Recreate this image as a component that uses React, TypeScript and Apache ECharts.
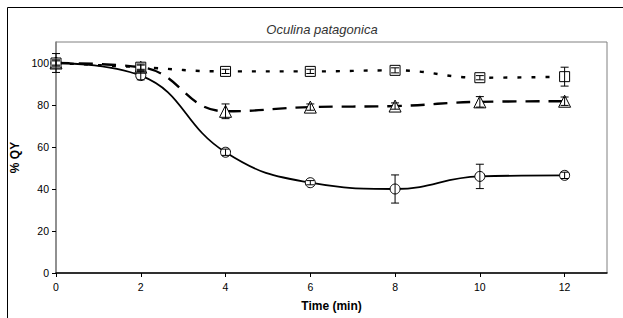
import React, { useEffect, useRef } from "react";
import * as echarts from "echarts";

const times = [0, 2, 4, 6, 8, 10, 12];
const circleMean = [100, 94, 57.5, 43, 40, 46, 46.5];
const circleErr = [4.5, 2, 1.5, 1, 6.7, 5.8, 1.5];
const triangleMean = [100, 98, 77, 79, 79.5, 81.5, 81.8];
const triangleErr = [1, 1, 3.5, 1.5, 1.5, 2.5, 2];
const squareMean = [100, 98, 96, 96, 96.5, 93, 93.5];
const squareErr = [1.5, 1.5, 1, 1, 1.2, 1, 4.5];
const xTicks = [0, 2, 4, 6, 8, 10, 12];
const yTicks = [0, 20, 40, 60, 80, 100];

const FONT = "Liberation Sans, Arial, sans-serif";

function errSeries(mean: number[], err: number[]) {
  return {
    type: "custom",
    z: 4,
    silent: true,
    data: times.map((t, i) => [t, mean[i] - err[i], mean[i] + err[i]]),
    renderItem: (_params: any, api: any) => {
      const x = api.value(0);
      const lo = api.coord([x, api.value(1)]);
      const hi = api.coord([x, api.value(2)]);
      const cw = 4;
      const style = { stroke: "#000", lineWidth: 1 };
      return {
        type: "group",
        children: [
          { type: "line", shape: { x1: lo[0], y1: lo[1], x2: hi[0], y2: hi[1] }, style },
          { type: "line", shape: { x1: lo[0] - cw, y1: lo[1], x2: lo[0] + cw, y2: lo[1] }, style },
          { type: "line", shape: { x1: hi[0] - cw, y1: hi[1], x2: hi[0] + cw, y2: hi[1] }, style },
        ],
      };
    },
  };
}

function lineSeries(name: string, mean: number[], symbol: string, size: number, dash: any, width: number) {
  return {
    name,
    type: "line",
    smooth: 0.45,
    data: times.map((t, i) => [t, mean[i]]),
    symbol,
    symbolSize: size,
    showSymbol: true,
    z: 3,
    lineStyle: { color: "#000", width, type: dash },
    itemStyle: { color: "#fff", borderColor: "#000", borderWidth: 1 },
  };
}

export default function App() {
  const ref = useRef<HTMLDivElement>(null);
  useEffect(() => {
    if (!ref.current) return;
    const chart = echarts.init(ref.current, null, { renderer: "svg" });
    chart.setOption({
      animation: false,
      backgroundColor: "#fff",
      title: {
        text: "Oculina patagonica",
        left: 317,
        top: 18,
        textAlign: "center",
        textStyle: { fontFamily: FONT, fontSize: 13, fontStyle: "italic", fontWeight: "normal", color: "#333" },
      },
      grid: {
        left: 56,
        right: 16,
        top: 42,
        bottom: 45,
        show: true,
        borderColor: "#808080",
        borderWidth: 1,
        backgroundColor: "#fff",
      },
      graphic: [
        {
          type: "rect",
          shape: { x: 7.5, y: 7.5, width: 640, height: 340 },
          style: { fill: "none", stroke: "#000", lineWidth: 1 },
          silent: true,
        },
      ],
      xAxis: {
        type: "value",
        min: 0,
        max: 13,
        interval: 2,
        name: "Time (min)",
        nameLocation: "middle",
        nameGap: 27,
        nameTextStyle: { fontFamily: FONT, fontSize: 12, fontWeight: "bold", color: "#000" },
        axisLine: { show: true, lineStyle: { color: "#000", width: 1.5 } },
        axisTick: { show: true, length: 4, lineStyle: { color: "#000" }, customValues: xTicks },
        axisLabel: { fontFamily: FONT, fontSize: 10.5, color: "#000", margin: 8, customValues: xTicks },
        splitLine: { show: false },
      },
      yAxis: {
        type: "value",
        min: 0,
        max: 110,
        interval: 20,
        name: "% QY",
        nameLocation: "middle",
        nameGap: 31,
        nameRotate: 90,
        nameTextStyle: { fontFamily: FONT, fontSize: 12, fontWeight: "bold", color: "#000" },
        axisLine: { show: true, lineStyle: { color: "#808080", width: 1.5 } },
        axisTick: { show: true, length: 4, lineStyle: { color: "#000" }, customValues: yTicks },
        axisLabel: { fontFamily: FONT, fontSize: 10.5, color: "#000", margin: 7, customValues: yTicks },
        splitLine: { show: false },
      },
      series: [
        lineSeries("circle", circleMean, "circle", 10, "solid", 1.8),
        lineSeries("triangle", triangleMean, "triangle", 12, [14, 9], 2.4),
        lineSeries("square", squareMean, "rect", 10, [4, 10], 2.4),
        errSeries(circleMean, circleErr),
        errSeries(triangleMean, triangleErr),
        errSeries(squareMean, squareErr),
      ],
    });
    return () => chart.dispose();
  }, []);
  return (
    <div
      ref={ref}
      style={{ position: "fixed", left: 0, top: 0, width: 623, height: 318 }}
    />
  );
}
